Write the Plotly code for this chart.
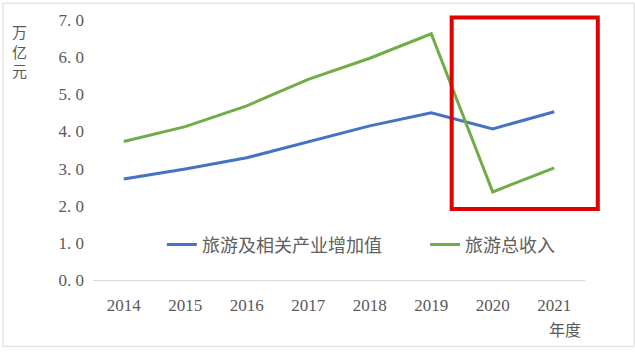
import plotly.graph_objects as go

years = ["2014", "2015", "2016", "2017", "2018", "2019", "2020", "2021"]
added_value = [2.72, 2.99, 3.29, 3.72, 4.15, 4.50, 4.07, 4.53]
total_revenue = [3.73, 4.13, 4.69, 5.40, 5.97, 6.63, 2.37, 3.02]
y_ticks = [0, 1, 2, 3, 4, 5, 6, 7]
y_labels = ["0. 0", "1. 0", "2. 0", "3. 0", "4. 0", "5. 0", "6. 0", "7. 0"]
unit_chars = ["万", "亿", "元"]

serif = "'Liberation Serif', 'DejaVu Serif', serif"
cjk = "Noto Sans CJK SC"

fig = go.Figure()
fig.add_trace(go.Scatter(x=years, y=added_value, mode="lines", name="旅游及相关产业增加值",
                         line=dict(color="#4472C4", width=3), legend="legend"))
fig.add_trace(go.Scatter(x=years, y=total_revenue, mode="lines", name="旅游总收入",
                         line=dict(color="#70AD47", width=3), legend="legend2"))

leg_common = dict(orientation="h", xanchor="left", yanchor="middle", y=0.135,
                  font=dict(family=cjk, size=18, color="#606060"),
                  bgcolor="rgba(0,0,0,0)", itemwidth=30)

fig.update_layout(
    width=635, height=352,
    margin=dict(l=93, r=50, t=20, b=72),
    paper_bgcolor="white", plot_bgcolor="white",
    showlegend=True,
    legend=dict(x=0.14, **leg_common),
    legend2=dict(x=0.675, **leg_common),
    xaxis=dict(type="category", range=[-0.5, 7.5], showgrid=False, showline=True,
               linecolor="#d9d9d9", linewidth=1,
               ticks="", tickfont=dict(family=serif, size=17, color="#595959"),
               ticklabelstandoff=10, zeroline=False),
    yaxis=dict(range=[0, 7], showgrid=False, showline=False, zeroline=False,
               tickvals=y_ticks, ticktext=y_labels, ticks="",
               tickfont=dict(family=serif, size=17, color="#595959"),
               ticklabelstandoff=8),
)

for i, ch in enumerate(unit_chars):
    fig.add_annotation(text=ch, xref="paper", yref="paper", x=-0.15, y=(280 - 32 - 19 * i) / 260,
                       xanchor="center", yanchor="middle", showarrow=False,
                       font=dict(family=cjk, size=15, color="#595959"))
fig.add_annotation(text="年度", xref="paper", yref="paper", x=0.96, y=-0.19,
                   xanchor="center", yanchor="middle", showarrow=False,
                   font=dict(family=cjk, size=16, color="#595959"))

# highlight box
fig.add_shape(type="rect", xref="paper", yref="paper", x0=0.729, x1=1.026, y0=0.273, y1=1.01,
              line=dict(color="#E00000", width=4), fillcolor="rgba(0,0,0,0)")
# outer border
fig.add_shape(type="rect", xref="paper", yref="paper", x0=-0.183, x1=1.1, y0=-0.255, y1=1.065,
              line=dict(color="#d9d9d9", width=1), fillcolor="rgba(0,0,0,0)", layer="below")

fig.write_html("out.html")
